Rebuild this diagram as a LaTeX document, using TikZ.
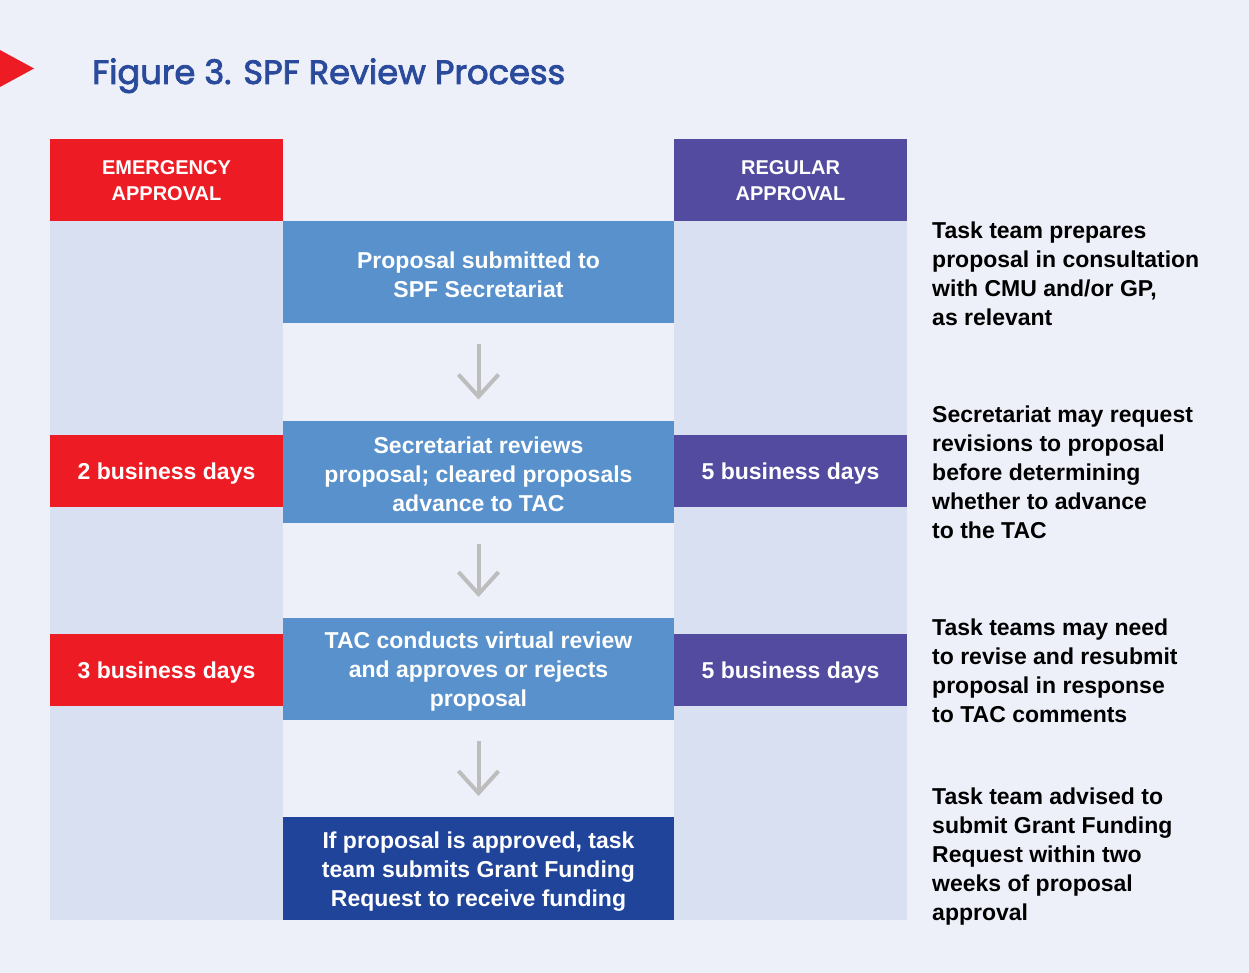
\documentclass[tikz,border=0pt]{standalone}
\usepackage{fontspec}
\setmainfont{Liberation Sans}
\newfontfamily\titlefont{Poppins}[FakeBold=2.5]
\usetikzlibrary{arrows.meta}

\definecolor{pagebg}{HTML}{EDF0F9}
\definecolor{lanebg}{HTML}{D8E0F2}
\definecolor{emred}{HTML}{ED1C24}
\definecolor{regpurple}{HTML}{524B9F}
\definecolor{stepblue}{HTML}{5891CB}
\definecolor{finalblue}{HTML}{21449B}
\definecolor{titleblue}{HTML}{2A4A9C}
\definecolor{arrowgray}{HTML}{BDBDBD}

\tikzset{
  cell/.style={rectangle, inner sep=0pt, outer sep=0pt, draw=none},
  celltext/.style={inner sep=0pt, text=white, align=center, yshift=-3pt,
    font=\bfseries\fontsize{23}{29}\selectfont},
  headtext/.style={celltext, yshift=2pt, font=\bfseries\fontsize{20}{26}\selectfont},
  headcell/.style={cell, minimum width=233pt, minimum height=82pt},
  daycell/.style={cell, minimum width=233pt, minimum height=72pt},
  stepcell/.style={cell, fill=stepblue, minimum width=391pt, minimum height=102pt},
  note/.style={anchor=west, align=left, inner sep=0pt, text=black,
    font=\bfseries\fontsize{23}{29}\selectfont},
  flow/.style={draw=arrowgray, line width=4pt,
    -{Straight Barb[length=22pt, width=40pt, line width=4pt]}}
}

\begin{document}
\begin{tikzpicture}[x=1pt, y=-1pt]
  % page
  \fill[pagebg] (0,0) rectangle (1249,973);
  \useasboundingbox (0,0) rectangle (1249,973);

  % title with marker
  \fill[emred] (0,50) -- (34,68.5) -- (0,87) -- cycle;
  \node[anchor=base west, inner sep=0pt, text=titleblue] (title) at (92,84)
        {\resizebox{473pt}{!}{\titlefont\fontsize{36}{40}\selectfont Figure 3. SPF Review Process}};

  % lanes
  \fill[lanebg] (50,221) rectangle (283,920);
  \fill[lanebg] (674,221) rectangle (907,920);

  % lane headers
  \node[headcell, fill=emred, label={[headtext]center:EMERGENCY\\APPROVAL}] (emhead) at (166.5,180) {};
  \node[headcell, fill=regpurple, label={[headtext]center:REGULAR\\APPROVAL}] (reghead) at (790.5,180) {};

  % process steps
  \node[stepcell, label={[celltext]center:Proposal submitted to\\SPF Secretariat}] (s1) at (478.5,272) {};
  \node[stepcell, label={[celltext]center:Secretariat reviews\\proposal; cleared proposals\\advance to TAC}] (s2) at (478.5,471.5) {};
  \node[stepcell, label={[celltext]center:TAC conducts virtual review\\and approves or rejects\\proposal}] (s3) at (478.5,669) {};
  \node[stepcell, fill=finalblue, minimum height=103pt,
        label={[celltext]center:If proposal is approved, task\\team submits Grant Funding\\Request to receive funding}] (s4) at (478.5,868.5) {};

  % durations
  \node[daycell, fill=emred, label={[celltext]center:2 business days}] (em1) at (166.5,471) {};
  \node[daycell, fill=emred, label={[celltext]center:3 business days}] (em2) at (166.5,670) {};
  \node[daycell, fill=regpurple, label={[celltext]center:5 business days}] (rg1) at (790.5,471) {};
  \node[daycell, fill=regpurple, label={[celltext]center:5 business days}] (rg2) at (790.5,670) {};

  % flow arrows
  \draw[flow] ([yshift=-21pt]s1.south) -- ([yshift=21pt]s2.north);
  \draw[flow] ([yshift=-21pt]s2.south) -- ([yshift=21pt]s3.north);
  \draw[flow] ([yshift=-21pt]s3.south) -- ([yshift=21pt]s4.north);

  % side notes
  \node[note] (n1) at (932,273.5) {Task team prepares\\proposal in consultation\\with CMU and/or GP,\\as relevant};
  \node[note] (n2) at (932,472) {Secretariat may request\\revisions to proposal\\before determining\\whether to advance\\to the TAC};
  \node[note] (n3) at (932,671) {Task teams may need\\to revise and resubmit\\proposal in response\\to TAC comments};
  \node[note] (n4) at (932,857) {Task team advised to\\submit Grant Funding\\Request within two\\weeks of proposal\\approval};
\end{tikzpicture}
\end{document}
